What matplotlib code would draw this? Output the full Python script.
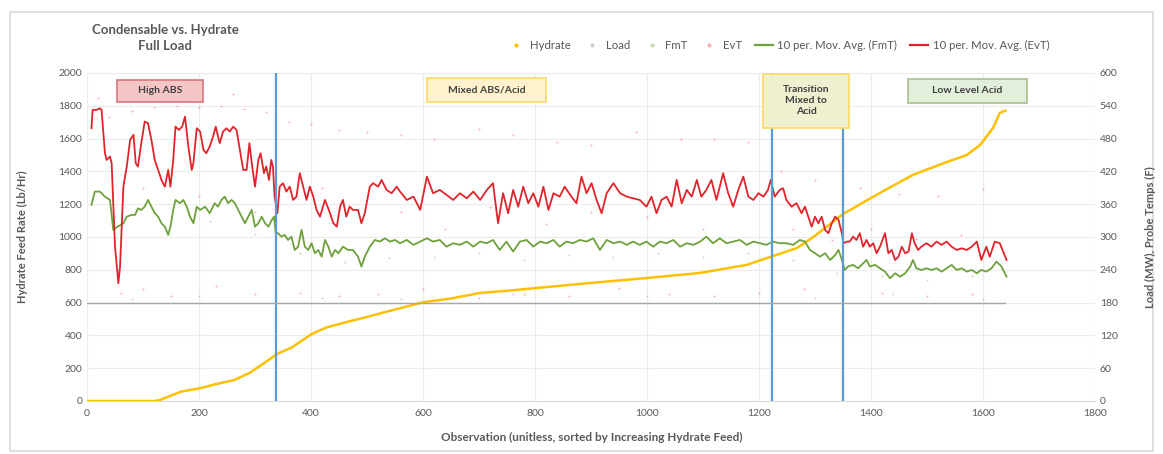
import matplotlib
matplotlib.use("Agg")
import matplotlib.pyplot as plt
from matplotlib.patches import Rectangle, FancyBboxPatch
from matplotlib.lines import Line2D

plt.rcParams['font.family'] = ['Lato', 'DejaVu Sans']

# ---------------- data ----------------
hydrate_x = [0, 120, 130, 168, 202, 229, 264, 291, 318, 339, 366, 401, 428, 462, 497, 531,
             565, 600, 650, 702, 760, 821, 900, 1000, 1095, 1178, 1220, 1268, 1297, 1350,
             1416, 1475, 1536, 1571, 1595, 1618, 1630, 1640]
hydrate_y = [0, 0, 6, 57, 78, 102, 129, 173, 235, 286, 327, 408, 449, 480, 510, 541,
             571, 602, 625, 659, 675, 695, 720, 750, 781, 830, 878, 933, 1000, 1140,
             1269, 1379, 1458, 1500, 1562, 1665, 1757, 1770]

load_x = [0, 1640]
load_mw = [180, 180]

evt_ma_x = [8, 10, 17, 23, 26, 32, 35, 41, 44, 50, 56, 59, 65, 71, 77, 83, 87, 91, 97, 103,
            109, 115, 121, 127, 133, 139, 145, 149, 154, 158, 164, 170, 175, 181, 187, 190,
            196, 202, 208, 213, 219, 225, 230, 234, 237, 243, 249, 255, 261, 267, 273, 279,
            285, 290, 295, 300, 306, 310, 316, 320, 325, 329, 332, 335, 340, 344, 350, 356,
            362, 368, 374, 380, 386, 392, 398, 404, 410, 416, 425, 434, 440, 446, 452, 457,
            463, 469, 475, 484, 490, 496, 505, 511, 520, 526, 535, 544, 553, 559, 571, 583,
            595, 607, 618, 630, 642, 654, 666, 678, 690, 702, 714, 725, 734, 743, 752, 761,
            770, 779, 788, 797, 806, 815, 824, 833, 844, 853, 865, 874, 883, 892, 901, 910,
            919, 928, 940, 952, 964, 975, 987, 999, 1008, 1017, 1026, 1035, 1044, 1053, 1062,
            1071, 1080, 1089, 1097, 1106, 1115, 1124, 1136, 1145, 1154, 1163, 1172, 1181,
            1190, 1199, 1208, 1216, 1221, 1228, 1237, 1243, 1249, 1258, 1267, 1276, 1282,
            1288, 1294, 1300, 1306, 1312, 1318, 1324, 1330, 1336, 1342, 1348, 1351, 1357,
            1362, 1368, 1374, 1380, 1386, 1392, 1398, 1404, 1410, 1416, 1425, 1431, 1437,
            1443, 1449, 1455, 1461, 1467, 1473, 1478, 1484, 1490, 1499, 1508, 1517, 1526,
            1535, 1544, 1553, 1562, 1571, 1580, 1589, 1597, 1606, 1612, 1621, 1630, 1636, 1642]
evt_ma = [1663, 1775, 1775, 1785, 1775, 1511, 1470, 1490, 1450, 942, 718, 820, 1307, 1430,
          1592, 1623, 1450, 1430, 1572, 1704, 1694, 1592, 1470, 1409, 1348, 1307, 1409, 1307,
          1470, 1673, 1653, 1673, 1734, 1551, 1409, 1450, 1663, 1643, 1531, 1511, 1551, 1612,
          1673, 1612, 1572, 1643, 1663, 1643, 1673, 1653, 1531, 1409, 1409, 1572, 1430, 1307,
          1470, 1511, 1389, 1430, 1348, 1470, 1430, 1246, 1145, 1307, 1328, 1277, 1307, 1226,
          1246, 1389, 1307, 1226, 1307, 1246, 1165, 1124, 1226, 1145, 1084, 1063, 1185, 1226,
          1124, 1185, 1165, 1165, 1084, 1145, 1307, 1328, 1307, 1348, 1287, 1267, 1307, 1277,
          1226, 1246, 1165, 1368, 1267, 1287, 1257, 1226, 1267, 1236, 1277, 1226, 1287, 1328,
          1084, 1267, 1145, 1287, 1185, 1307, 1206, 1267, 1185, 1307, 1165, 1267, 1246, 1307,
          1246, 1206, 1368, 1267, 1328, 1226, 1145, 1267, 1328, 1267, 1246, 1236, 1226, 1185,
          1246, 1145, 1226, 1246, 1185, 1348, 1206, 1287, 1246, 1348, 1246, 1287, 1348, 1226,
          1389, 1267, 1185, 1287, 1368, 1246, 1226, 1267, 1246, 1287, 1348, 1246, 1287, 1297,
          1226, 1185, 1206, 1145, 1185, 1124, 1063, 1124, 1084, 1124, 1043, 1023, 1084, 1124,
          1104, 1023, 962, 972, 972, 1002, 982, 1023, 941, 982, 941, 962, 901, 941, 1023, 901,
          921, 860, 880, 941, 901, 911, 1023, 962, 921, 941, 962, 941, 972, 952, 972, 941, 921,
          931, 921, 941, 972, 860, 941, 880, 972, 962, 911, 860]

fmt_ma_x = [8, 14, 23, 32, 41, 47, 53, 65, 71, 80, 86, 91, 97, 103, 109, 115, 121, 127, 133,
            139, 145, 149, 154, 158, 166, 172, 178, 184, 190, 196, 202, 211, 219, 228, 234,
            240, 246, 252, 258, 264, 270, 276, 282, 288, 294, 300, 306, 312, 318, 324, 330,
            334, 337, 341, 347, 353, 359, 365, 371, 377, 383, 389, 395, 401, 407, 413, 419,
            425, 431, 437, 443, 449, 457, 466, 475, 484, 490, 496, 505, 514, 523, 532, 541,
            550, 559, 571, 583, 595, 607, 618, 630, 642, 654, 666, 678, 690, 702, 714, 725,
            737, 749, 761, 773, 785, 797, 809, 821, 833, 844, 856, 868, 880, 892, 904, 916,
            928, 940, 952, 964, 975, 987, 999, 1011, 1023, 1035, 1047, 1059, 1071, 1083,
            1095, 1106, 1118, 1130, 1142, 1154, 1166, 1178, 1190, 1202, 1213, 1225, 1237,
            1249, 1261, 1273, 1282, 1291, 1300, 1309, 1318, 1327, 1336, 1342, 1348, 1353,
            1359, 1368, 1377, 1386, 1392, 1398, 1407, 1416, 1425, 1434, 1443, 1452, 1461,
            1470, 1475, 1481, 1490, 1499, 1508, 1517, 1526, 1535, 1544, 1553, 1562, 1571,
            1580, 1589, 1597, 1606, 1615, 1624, 1633, 1642]
fmt_ma = [1196, 1277, 1277, 1246, 1226, 1043, 1060, 1084, 1124, 1135, 1135, 1175, 1165, 1185,
          1226, 1185, 1145, 1124, 1084, 1063, 1013, 1063, 1165, 1226, 1206, 1226, 1185, 1124,
          1084, 1185, 1165, 1185, 1145, 1206, 1185, 1226, 1246, 1206, 1226, 1206, 1165, 1124,
          1084, 1124, 1165, 1063, 1084, 1124, 1084, 1063, 1104, 1124, 1023, 1023, 1002, 1013,
          982, 1002, 921, 941, 1043, 941, 921, 962, 901, 921, 880, 982, 941, 880, 921, 901,
          941, 921, 921, 880, 820, 880, 941, 982, 972, 992, 972, 982, 962, 982, 952, 972,
          992, 972, 982, 941, 962, 952, 972, 941, 972, 962, 982, 921, 972, 911, 972, 982, 941,
          972, 962, 982, 941, 972, 962, 982, 972, 992, 921, 982, 962, 972, 952, 972, 952, 972,
          941, 972, 962, 982, 941, 962, 952, 972, 1002, 962, 992, 962, 972, 982, 952, 972,
          962, 952, 972, 962, 962, 952, 982, 972, 921, 901, 880, 901, 860, 890, 921, 860, 799,
          820, 830, 809, 840, 860, 820, 830, 809, 789, 748, 779, 758, 779, 820, 860, 809, 799,
          809, 799, 809, 789, 809, 830, 799, 809, 789, 799, 779, 799, 789, 809, 850, 820, 758]

evt_dots_x = [20, 40, 80, 120, 130, 160, 200, 240, 260, 280, 320, 360, 400, 450, 500, 560, 620,
              700, 760, 840, 900, 980, 1060, 1120, 1180, 1240, 1300, 1380, 1450, 1520, 1600,
              60, 100, 150, 230, 300, 380, 450, 520, 600, 700, 780, 860, 950, 1040, 1120, 1200,
              1280, 1350, 1420, 1500, 1580, 100, 200, 300, 420, 560, 640, 720, 820, 900, 1000,
              1100, 1150, 1260, 1330, 1400, 1480, 1560]
evt_dots_y = [1850, 1730, 1770, 1790, 1860, 1800, 1790, 1800, 1870, 1780, 1760, 1700, 1690,
              1650, 1640, 1620, 1600, 1660, 1620, 1580, 1560, 1640, 1600, 1600, 1580, 1400,
              1350, 1300, 1260, 1250, 1290, 660, 680, 640, 700, 650, 660, 640, 650, 680, 630,
              650, 640, 690, 650, 640, 660, 680, 650, 660, 640, 650, 1300, 1250, 1150, 1300,
              1150, 1050, 1180, 1080, 1150, 1120, 1050, 1200, 1050, 980, 1050, 990, 1010]

fmt_dots_x = [50, 120, 220, 300, 380, 460, 540, 620, 700, 780, 860, 940, 1020, 1100, 1180,
              1260, 1340, 1420, 1500, 1580, 80, 200, 420, 560, 760, 1000, 1300, 1440, 1600]
fmt_dots_y = [1120, 1150, 1100, 1020, 900, 850, 870, 880, 900, 860, 890, 880, 900, 880, 900,
              860, 780, 760, 740, 760, 620, 640, 630, 620, 650, 640, 630, 650, 620]

region_splits = [337, 1223, 1350]

x_ticks = [0, 200, 400, 600, 800, 1000, 1200, 1400, 1600, 1800]
left_ticks = [0, 200, 400, 600, 800, 1000, 1200, 1400, 1600, 1800, 2000]
right_ticks = [0, 60, 120, 180, 240, 300, 360, 420, 480, 540, 600]

# ---------------- styling ----------------
RED = '#e0242b'
GREEN = '#6fa03c'
YELLOW = '#ffc000'
GRAY = '#a6a6a6'
BLUE = '#5b9bd5'
TXT = '#595959'

fig = plt.figure(figsize=(11.63, 4.54), dpi=100)
fig.patch.set_facecolor('white')

# outer chart border
fig.patches.append(FancyBboxPatch((10 / 1163, 3 / 454), 1143 / 1163, 439 / 454,
                                  boxstyle='square,pad=0', transform=fig.transFigure,
                                  facecolor='none', edgecolor='#d9d9d9', linewidth=1.2))

ax = fig.add_axes([87 / 1163, 1 - 401 / 454, 1008 / 1163, 328 / 454])
ax2 = ax.twinx()

ax.set_xlim(0, 1800)
ax.set_ylim(0, 2000)
ax2.set_ylim(0, 600)
ax.set_xticks(x_ticks)
ax.set_yticks(left_ticks)
ax2.set_yticks(right_ticks)

for a in (ax, ax2):
    for s in a.spines.values():
        s.set_visible(False)
    a.tick_params(length=0, labelsize=7.5, labelcolor=TXT)
ax.spines['bottom'].set_visible(True)
ax.spines['bottom'].set_color('#d9d9d9')
ax.grid(True, color='#ececec', linewidth=0.8)
ax.set_axisbelow(True)
ax.tick_params(axis='x', pad=6)

# scatter dots (faint)
ax.scatter(evt_dots_x, evt_dots_y, s=2, color=RED, alpha=0.35, linewidths=0, zorder=2)
ax.scatter(fmt_dots_x, fmt_dots_y, s=2, color=GREEN, alpha=0.35, linewidths=0, zorder=2)

# load line on right axis
ax2.plot(load_x, load_mw, color=GRAY, linewidth=1.0, zorder=2)

# hydrate
ax.plot(hydrate_x, hydrate_y, color=YELLOW, linewidth=1.8, zorder=3)

# moving averages
ax.plot(fmt_ma_x, fmt_ma, color=GREEN, linewidth=1.3, zorder=4)
ax.plot(evt_ma_x, evt_ma, color=RED, linewidth=1.3, zorder=5)

# region splits
for xv in region_splits:
    ax.axvline(xv, color=BLUE, linewidth=1.6, zorder=6)

# annotation boxes
boxes = [
    (54, 1826, 153, 134, '#f4c7c6', '#d9757a', 'High ABS'),
    (607, 1826, 213, 144, '#fff2cc', '#ffd966', 'Mixed ABS/Acid'),
    (1207, 1665, 154, 330, '#eef0cf', '#ffd966', 'Transition\nMixed to\nAcid'),
    (1466, 1820, 213, 144, '#e2efda', '#a9bf8c', 'Low Level Acid'),
]
for bx, by, bw, bh, fc, ec, label in boxes:
    ax.add_patch(Rectangle((bx, by), bw, bh, facecolor=fc, edgecolor=ec,
                           linewidth=1.2, zorder=7))
    ax.text(bx + bw / 2, by + bh / 2, label, ha='center', va='center', fontsize=7.5,
            fontweight='bold', color='#404040', zorder=8, linespacing=1.3)

# axis labels
fig.text(22 / 1163, 1 - 237 / 454, 'Hydrate Feed Rate (Lb/Hr)', rotation=90, ha='center',
         va='center', fontsize=8, fontweight='bold', color=TXT)
fig.text(1150 / 1163, 1 - 237 / 454, 'Load (MW), Probe Temps (F)', rotation=90, ha='center',
         va='center', fontsize=8, fontweight='bold', color=TXT)
fig.text(592 / 1163, 1 - 437 / 454, 'Observation (unitless, sorted by Increasing Hydrate Feed)',
         ha='center', va='center', fontsize=8.5, fontweight='bold', color=TXT)

# title
fig.text(165 / 1163, 1 - 38 / 454, 'Condensable vs. Hydrate\nFull Load', ha='center',
         va='center', fontsize=9.5, fontweight='bold', color=TXT, linespacing=1.4)

# legend
handles = [
    Line2D([], [], linestyle='none', marker='o', markersize=2, color=YELLOW),
    Line2D([], [], linestyle='none', marker='o', markersize=2, color='#d0d0d0'),
    Line2D([], [], linestyle='none', marker='o', markersize=2, color='#c5dab0'),
    Line2D([], [], linestyle='none', marker='o', markersize=2, color='#f2b8ba'),
    Line2D([], [], color=GREEN, linewidth=1.6),
    Line2D([], [], color=RED, linewidth=1.6),
]
labels = ['Hydrate', 'Load', 'FmT', 'EvT', '10 per. Mov. Avg. (FmT)', '10 per. Mov. Avg. (EvT)']
leg = fig.legend(handles, labels, loc='center', bbox_to_anchor=(778 / 1163, 1 - 45 / 454),
                 ncol=6, frameon=False, fontsize=8.2, handlelength=1.6, handletextpad=0.4,
                 columnspacing=1.1)
for t in leg.get_texts():
    t.set_color(TXT)

fig.savefig('out.png', dpi=100)
